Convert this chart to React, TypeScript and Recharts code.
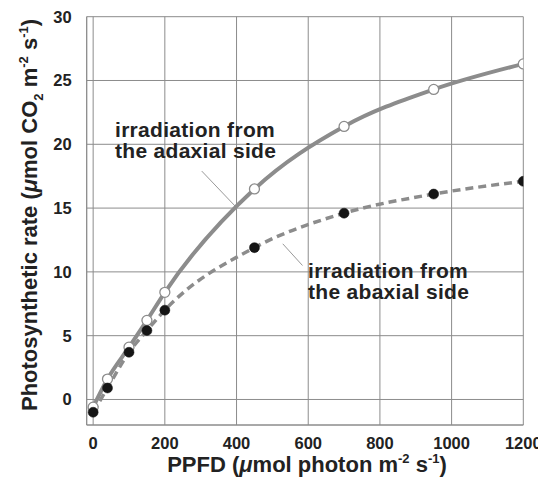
import React from 'react';
import { LineChart, Line, XAxis, YAxis, CartesianGrid, ReferenceLine } from 'recharts';

// PPFD levels (µmol photon m-2 s-1)
const ppfd = [0, 40, 100, 150, 200, 450, 700, 950, 1200];
// photosynthetic rate, irradiation from the adaxial side (open circles)
const adaxial = [-0.6, 1.6, 4.1, 6.2, 8.4, 16.5, 21.4, 24.3, 26.3];
// photosynthetic rate, irradiation from the abaxial side (filled circles)
const abaxial = [-1.0, 0.9, 3.7, 5.4, 7.0, 11.9, 14.6, 16.1, 17.1];

const xTicks = [0, 200, 400, 600, 800, 1000, 1200];
const yTicks = [0, 5, 10, 15, 20, 25, 30];

const data = ppfd.map((p, i) => ({ ppfd: p, adaxial: adaxial[i], abaxial: abaxial[i] }));

const FONT = '"Liberation Sans", Arial, Helvetica, sans-serif';
const GRID = '#8c8c8c';
const TEXT = '#222';

const W = 538;
const H = 477;

const tickStyle = { fontSize: 16.5, fontWeight: 700, fill: TEXT, fontFamily: FONT };

const App: React.FC = () => {
  return (
    <div style={{ position: 'relative', width: W, height: H }}>
      <LineChart
        width={W}
        height={H}
        data={data}
        margin={{ top: 8.7, right: 22.7, left: 18.7, bottom: 30 }}
      >
        <CartesianGrid stroke={GRID} strokeWidth={1} />
        <XAxis
          dataKey="ppfd"
          type="number"
          domain={[-18, 1200]}
          ticks={xTicks}
          allowDataOverflow
          height={30}
          tickSize={0}
          tickMargin={12}
          tickLine={false}
          axisLine={{ stroke: GRID, strokeWidth: 1 }}
          tick={tickStyle}
          interval={0}
        />
        <YAxis
          type="number"
          domain={[-2, 30]}
          ticks={yTicks}
          allowDataOverflow
          width={60}
          tickSize={0}
          tickMargin={15}
          tickLine={false}
          axisLine={{ stroke: GRID, strokeWidth: 1 }}
          tick={tickStyle}
          interval={0}
        />
        <ReferenceLine
          segment={[{ x: 303, y: 17.9 }, { x: 398, y: 15.1 }]}
          stroke="#999"
          strokeWidth={1}
          ifOverflow="visible"
        />
        <ReferenceLine
          segment={[{ x: 529, y: 12.2 }, { x: 584, y: 10.5 }]}
          stroke="#999"
          strokeWidth={1}
          ifOverflow="visible"
        />
        <Line
          dataKey="adaxial"
          type="monotone"
          stroke="#8c8c8c"
          strokeWidth={4}
          dot={{ r: 5, fill: '#fff', stroke: '#8c8c8c', strokeWidth: 1.3 }}
          isAnimationActive={false}
        />
        <Line
          dataKey="abaxial"
          type="monotone"
          stroke="#8c8c8c"
          strokeWidth={3.5}
          strokeDasharray="8 5"
          dot={{ r: 5, fill: '#151515', stroke: '#151515', strokeWidth: 0.5, strokeDasharray: '' }}
          isAnimationActive={false}
        />
      </LineChart>
      <svg
        width={W}
        height={H}
        style={{ position: 'absolute', left: 0, top: 0, pointerEvents: 'none', overflow: 'visible' }}
        fontFamily={FONT}
        fontWeight={700}
        fill={TEXT}
      >
        <text x={28.7} y={207} textAnchor="middle" fontSize={22} transform="rotate(-90 28.7 207)">
          Photosynthetic rate (<tspan fontStyle="italic">μ</tspan>mol CO
          <tspan fontSize={13} dy={6}>2</tspan>
          <tspan dy={-6}> m</tspan>
          <tspan fontSize={13} dy={-9}>-2</tspan>
          <tspan dy={9}> s</tspan>
          <tspan fontSize={13} dy={-9}>-1</tspan>
          <tspan dy={9}>)</tspan>
        </text>
        <text x={299} y={463.7} textAnchor="middle" fontSize={22}>
          PPFD (<tspan fontStyle="italic">μ</tspan>mol photon m
          <tspan fontSize={13} dy={-9}>-2</tspan>
          <tspan dy={9}> s</tspan>
          <tspan fontSize={13} dy={-9}>-1</tspan>
          <tspan dy={9}>)</tspan>
        </text>
        <text x={107} y={128.7} fontSize={21} letterSpacing={0.3}>
          <tspan x={107}>irradiation from</tspan>
          <tspan x={107} dy={21.6}>the adaxial side</tspan>
        </text>
        <text x={300} y={269.7} fontSize={21} letterSpacing={0.3}>
          <tspan x={300}>irradiation from</tspan>
          <tspan x={300} dy={21.6}>the abaxial side</tspan>
        </text>
      </svg>
    </div>
  );
};

export default App;
